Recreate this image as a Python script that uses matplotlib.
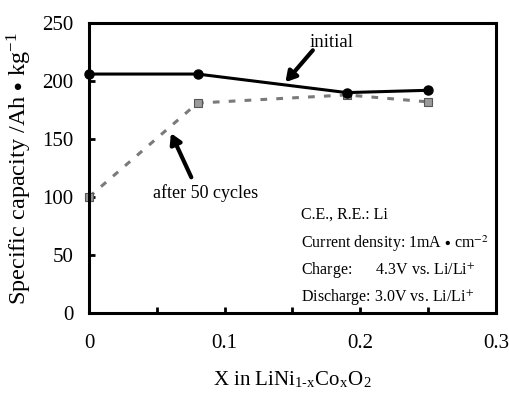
import numpy as np
import matplotlib
matplotlib.use("Agg")
import matplotlib.pyplot as plt

plt.rcParams['font.family'] = ['Liberation Serif', 'DejaVu Serif']
plt.rcParams['mathtext.fontset'] = 'stix'

# data
x_co = [0, 0.08, 0.19, 0.25]
initial = [206, 206, 190, 192]
after_50 = [100, 181, 188, 182]

x_ticks = [0, 0.1, 0.2, 0.3]
y_ticks = [0, 50, 100, 150, 200, 250]

conditions = [
    "C.E., R.E.: Li",
    r"Current density: 1mA $\bullet$ cm$^{-2}$",
    "Charge:      4.3V vs. Li/Li$^{+}$",
    "Discharge: 3.0V vs. Li/Li$^{+}$",
]
cond_y = [85, 59.5, 37, 14]

fig = plt.figure(figsize=(5.1, 3.94), dpi=100)
ax = fig.add_axes([0.1745, 0.2056, 0.798, 0.736])

ax.plot(x_co, after_50, color='#7a7a7a', lw=2.2, ls=(0, (2.2, 3)),
        marker='s', ms=6, mfc='#9a9a9a', mec='#555555', mew=0.8, zorder=2,
        clip_on=False)
ax.plot(x_co, initial, color='black', lw=2.2, marker='o', ms=6.5, zorder=3,
        clip_on=False)

ax.set_xlim(0, 0.3)
ax.set_ylim(0, 250)
ax.set_xticks(x_ticks)
ax.set_xticks([0.05, 0.15, 0.25], minor=True)
ax.set_xticklabels(["0", "0.1", "0.2", "0.3"])
ax.set_yticks(y_ticks)

for s in ax.spines.values():
    s.set_linewidth(2.2)

ax.tick_params(axis='both', which='both', direction='in', length=4.5, width=2,
               labelsize=15)
ax.tick_params(axis='x', pad=15)
ax.tick_params(axis='y', pad=11)

ax.set_xlabel(r"X in LiNi$_{\mathregular{1\text{-}x}}$Co$_{\mathregular{x}}$O$_{\mathregular{2}}$",
              fontsize=15, labelpad=12)
ax.set_ylabel(r"Specific capacity /Ah $\bullet$ kg$^{\mathregular{-1}}$",
              fontsize=17.5, labelpad=6)

arrow = dict(arrowstyle='-|>,head_length=0.6,head_width=0.35',
             color='black', lw=3, shrinkA=0, shrinkB=0)
ax.text(0.179, 233, "initial", fontsize=13.5, ha='center', va='center')
ax.annotate("", xy=(0.1448, 199), xytext=(0.165, 226.5), arrowprops=arrow)
ax.text(0.086, 103, "after 50 cycles", fontsize=13, ha='center', va='center')
ax.annotate("", xy=(0.0604, 155), xytext=(0.0754, 117), arrowprops=arrow)

for line, yy in zip(conditions, cond_y):
    ax.text(0.156, yy, line, fontsize=11.5, ha='left', va='center')

fig.savefig("out.png", dpi=100)
